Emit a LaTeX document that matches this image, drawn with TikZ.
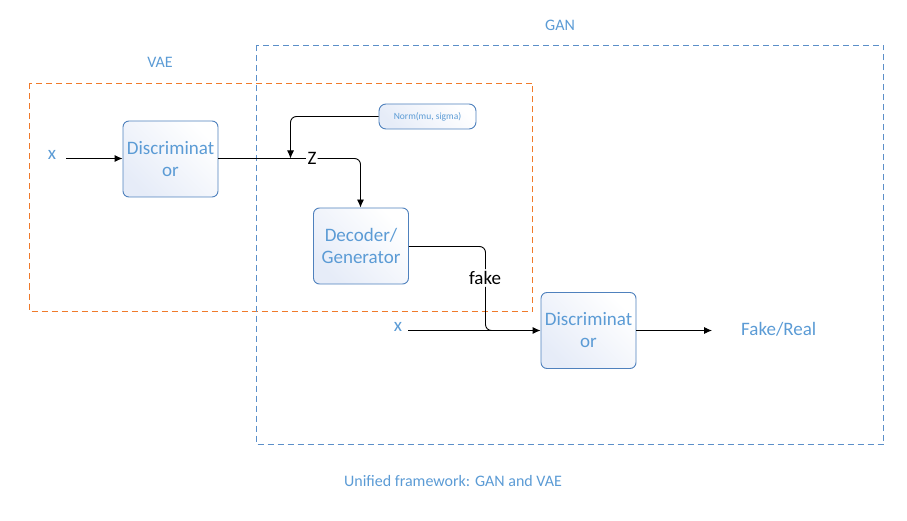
\documentclass[tikz,border=0pt]{standalone}
\usepackage{fontspec}
\setmainfont{Carlito}
\usetikzlibrary{arrows.meta,shapes.misc}
\definecolor{txtblue}{HTML}{5B9BD5}
\definecolor{boxblue}{HTML}{4F81BD}
\definecolor{dashblue}{HTML}{5B8FC9}
\definecolor{dashorange}{HTML}{F07A2A}
\definecolor{fillblue}{HTML}{E6ECF8}
\begin{document}
\begin{tikzpicture}[x=1pt,y=-1pt,
  blk/.style={draw=boxblue,line width=0.9pt,rounded corners=6pt,minimum width=95pt,minimum height=76pt,
    align=center,text=txtblue,font=\fontsize{19}{22}\selectfont,left color=fillblue,right color=white,shading angle=135,inner sep=0pt,text width=95pt},
  smallblk/.style={draw=boxblue,line width=0.9pt,rounded corners=7pt,minimum width=97pt,minimum height=25pt,
    text=txtblue,font=\fontsize{9.5}{11}\selectfont,left color=fillblue,right color=white,shading angle=135,inner sep=0pt},
  lbl/.style={text=txtblue,font=\fontsize{19}{22}\selectfont,inner sep=1pt},
  captxt/.style={text=txtblue,font=\fontsize{16}{19}\selectfont},
  conn/.style={draw=black,line width=0.9pt},
  arr/.style={conn,-{Latex[length=8pt,width=7pt]}},
  frameblue/.style={draw=dashblue,line width=1pt,dash pattern=on 6pt off 4pt},
  frameorange/.style={draw=dashorange,line width=1.25pt,dash pattern=on 6pt off 4pt}]
\useasboundingbox (0,0) rectangle (907,521);
% frames
\draw[frameorange] (29.5,83.5) rectangle (532.5,311.5);
\draw[frameblue] (256.5,45.5) rectangle (883.5,444.5);
\node[captxt] (vaelbl) at (160,62) {VAE};
\node[captxt] (ganlbl) at (560,25) {GAN};
\node[captxt] (caption) at (453,481) {Unified framework: GAN and VAE};
% nodes
\node[blk] (disc1) at (170.5,159) {Discriminat\\or};
\node[smallblk] (norm) at (427.5,116.5) {Norm(mu, sigma)};
\node[blk] (dec) at (361,246) {Decoder/\\Generator};
\node[blk] (disc2) at (588.5,330.5) {Discriminat\\or};
\node[lbl] (x1) at (52,155) {x};
\node[lbl] (x2) at (398,327) {x};
\node[lbl,anchor=west] (fr) at (740,329) {Fake/Real};
\node[font=\fontsize{19}{22}\selectfont,fill=white,inner sep=1pt] (z) at (312,158) {Z};
\node[font=\fontsize{19}{22}\selectfont,fill=white,inner sep=2pt] (fake) at (485,278) {fake};
\coordinate (x1e) at (66,158.5);
\coordinate (x2e) at (408,330.5);
\coordinate (fre) at (712,330.5);
\coordinate (zjoin) at (290.5,158.5);
% connectors
\draw[arr] (x1e) -- (disc1.west|-x1e);
\draw[conn] (disc1.east|-x1e) -- (z.west|-x1e);
\draw[arr,rounded corners=6pt] (z.east|-x1e) -- (360.5,158.5) -- (dec.north-|360.5,0);
\draw[arr,rounded corners=6pt] (norm.west) -- (290.5,116.5) -- (zjoin);
\draw[conn,rounded corners=6pt] (dec.east|-0,246.5) -- (485.5,246.5) -- (fake.north-|485.5,0);
\draw[conn,rounded corners=6pt] (fake.south-|485.5,0) -- (485.5,330.5) -- (495,330.5);
\draw[arr] (x2e) -- (disc2.west|-x2e);
\draw[arr] (disc2.east|-fre) -- (fre);
\end{tikzpicture}
\end{document}
